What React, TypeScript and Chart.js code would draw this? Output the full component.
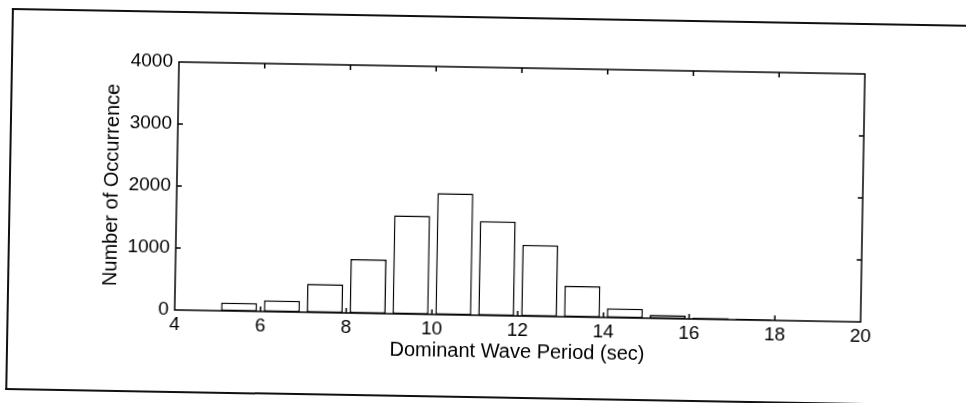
import React, { useEffect, useRef } from "react";
import { Chart, registerables } from "chart.js";

Chart.register(...registerables);

// Histogram bins (centres, seconds) and counts
const binCenters = [4.5, 5.5, 6.5, 7.5, 8.5, 9.5, 10.5, 11.5, 12.5, 13.5, 14.5, 15.5, 16.5, 17.5, 18.5, 19.5];
const occurrences = [0, 135, 180, 460, 870, 1590, 1960, 1520, 1150, 500, 150, 55, 25, 15, 5, 0];
const xTicks = [4, 6, 8, 10, 12, 14, 16, 18, 20];
const yTicks = [0, 1000, 2000, 3000, 4000];
const xTitle = "Dominant Wave Period (sec)";
const yTitle = "Number of Occurrence";

const FONT = "'Liberation Sans', Arial, Helvetica, sans-serif";

const framePlugin = {
  id: "matlabFrame",
  afterDatasetsDraw(chart: any) {
    const { ctx, chartArea, scales } = chart;
    const { left, right, top, bottom } = chartArea;
    const x = scales.x;
    const y = scales.y;
    ctx.save();
    ctx.strokeStyle = "#000";
    ctx.lineWidth = 1.5;
    ctx.strokeRect(left, top, right - left, bottom - top);
    const L = 5;
    ctx.beginPath();
    xTicks.slice(1, -1).forEach((v) => {
      const px = x.getPixelForValue(v);
      ctx.moveTo(px, bottom);
      ctx.lineTo(px, bottom - L);
      ctx.moveTo(px, top);
      ctx.lineTo(px, top + L);
    });
    yTicks.slice(1, -1).forEach((v) => {
      const py = y.getPixelForValue(v);
      ctx.moveTo(left, py);
      ctx.lineTo(left + L, py);
      ctx.moveTo(right, py);
      ctx.lineTo(right - L, py);
    });
    ctx.stroke();
    ctx.restore();
  },
};

export default function App() {
  const ref = useRef<HTMLCanvasElement | null>(null);

  useEffect(() => {
    if (!ref.current) return;
    const chart = new Chart(ref.current, {
      type: "bar",
      data: {
        datasets: [
          {
            data: binCenters.map((c, i) => ({ x: c, y: occurrences[i] })),
            backgroundColor: "#ffffff",
            borderColor: "#000000",
            borderWidth: 1.5,
            borderSkipped: false,
            barPercentage: 0.84,
            categoryPercentage: 1,
          } as any,
        ],
      },
      options: {
        animation: false,
        responsive: false,
        maintainAspectRatio: false,
        layout: { padding: { left: 94, top: 62, right: 101, bottom: 40 } },
        plugins: { legend: { display: false }, tooltip: { enabled: false } },
        scales: {
          x: {
            type: "linear",
            min: 4,
            max: 20,
            offset: false,
            afterBuildTicks: (s: any) => {
              s.ticks = xTicks.map((v) => ({ value: v }));
            },
            afterFit: (s: any) => {
              s.height = 53;
            },
            grid: { display: false, drawTicks: false },
            border: { display: false },
            ticks: {
              color: "#000",
              font: { family: FONT, size: 19 },
              padding: 3,
              maxRotation: 0,
              autoSkip: false,
              callback: (v: any) => String(v),
            },
            title: {
              display: true,
              text: xTitle,
              color: "#000",
              font: { family: FONT, size: 20 },
              padding: { top: 0, bottom: 5 },
            },
          },
          y: {
            min: 0,
            max: 4000,
            afterBuildTicks: (s: any) => {
              s.ticks = yTicks.map((v) => ({ value: v }));
            },
            afterFit: (s: any) => {
              s.width = 85;
            },
            grid: { display: false, drawTicks: false },
            border: { display: false },
            ticks: {
              color: "#000",
              font: { family: FONT, size: 19 },
              padding: 6,
              autoSkip: false,
              callback: (v: any) => String(v),
            },
            title: {
              display: true,
              text: yTitle,
              color: "#000",
              font: { family: FONT, size: 20 },
              padding: { top: 8, bottom: 0 },
            },
          },
        },
      } as any,
      plugins: [framePlugin],
    });
    return () => chart.destroy();
  }, []);

  return (
    <div
      style={{
        position: "fixed",
        left: 0,
        top: 0,
        width: 966,
        height: 403,
        overflow: "hidden",
        background: "#fff",
      }}
    >
      <div
        style={{
          position: "absolute",
          left: 0,
          top: 0,
          width: 966,
          height: 403,
          transform: "rotate(1deg)",
          transformOrigin: "179px 62px",
        }}
      >
        <div
          style={{
            position: "absolute",
            left: 11,
            top: 11,
            width: 1200,
            height: 382,
            boxSizing: "border-box",
            borderLeft: "2.5px solid #111",
            borderTop: "2px solid #111",
            borderBottom: "2.5px solid #111",
          }}
        />
        <canvas
          ref={ref}
          width={966}
          height={403}
          style={{ position: "absolute", left: 0, top: 0, width: 966, height: 403 }}
        />
      </div>
    </div>
  );
}
